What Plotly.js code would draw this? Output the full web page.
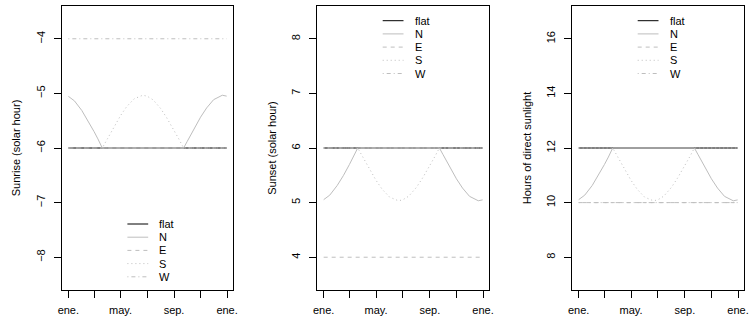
<!DOCTYPE html>
<html><head><meta charset="utf-8">
<script src="https://cdn.plot.ly/plotly-3.0.1.min.js"></script>
<style>html,body{margin:0;padding:0;background:#fff}#chart{width:749px;height:322px}</style>
</head><body><div id="chart"></div>
<script>
// ---- data ----
const dates = ["2023-01-01","2023-01-15","2023-02-01","2023-02-15","2023-03-01","2023-03-10","2023-03-20",
  "2023-04-01","2023-04-15","2023-05-01","2023-05-15","2023-06-01","2023-06-21","2023-07-01","2023-07-15",
  "2023-08-01","2023-08-15","2023-09-01","2023-09-12","2023-09-23","2023-10-01","2023-10-15","2023-11-01",
  "2023-11-15","2023-12-01","2023-12-21","2023-12-31"];
const ends = ["2023-01-01","2023-12-31"];
const seriesNames = ["flat","N","E","S","W"];

const sunriseFlat = [-6,-6];
const sunriseN = [-5.054,-5.137,-5.314,-5.493,-5.698,-5.834,-6,-6,-6,-6,-6,-6,-6,-6,-6,-6,-6,-6,-6,-6,
  -5.884,-5.674,-5.436,-5.266,-5.115,-5.034,-5.050];
const sunriseE = [-6,-6];
const sunriseS = [-6,-6,-6,-6,-6,-6,-6,-5.830,-5.622,-5.407,-5.244,-5.101,-5.034,-5.050,-5.119,-5.275,
  -5.444,-5.674,-5.834,-6,-6,-6,-6,-6,-6,-6,-6];
const sunriseW = [-4,-4];

const sunsetFlat = [6,6];
const sunsetN = [5.054,5.137,5.314,5.493,5.698,5.834,6,6,6,6,6,6,6,6,6,6,6,6,6,6,
  5.884,5.674,5.436,5.266,5.115,5.034,5.050];
const sunsetE = [4,4];
const sunsetS = [6,6,6,6,6,6,6,5.830,5.622,5.407,5.244,5.101,5.034,5.050,5.119,5.275,
  5.444,5.674,5.834,6,6,6,6,6,6,6,6];
const sunsetW = [6,6];

const hoursFlat = [12,12];
const hoursN = [10.108,10.275,10.627,10.987,11.395,11.668,12,12,12,12,12,12,12,12,12,12,12,12,12,12,
  11.769,11.348,10.872,10.532,10.229,10.067,10.099];
const hoursE = [10,10];
const hoursS = [12,12,12,12,12,12,12,11.661,11.245,10.813,10.489,10.201,10.067,10.099,10.238,10.550,
  10.888,11.348,11.668,12,12,12,12,12,12,12,12];
const hoursW = [10,10];

const tickDates = ["2023-01-01","2023-03-01","2023-05-01","2023-07-01","2023-09-01","2023-11-01","2024-01-01"];
const tickLabels = ["ene.","","may.","","sep.","","ene."];
const sunriseTicks = [-8,-7,-6,-5,-4];
const sunsetTicks = [4,5,6,7,8];
const hoursTicks = [8,10,12,14,16];
const yTitles = ["Sunrise (solar hour)","Sunset (solar hour)","Hours of direct sunlight"];

// ---- styles / layout ----
const W = 749, H = 322;
const styles = [
  {color:"#000000", dash:"solid"},
  {color:"#bebebe", dash:"solid"},
  {color:"#bebebe", dash:"4px,4px"},
  {color:"#bebebe", dash:"1px,3px"},
  {color:"#bebebe", dash:"1px,3px,4px,3px"}
];
const font = {family:"Liberation Sans, Arial, Helvetica, sans-serif", size:11, color:"#000"};
const boxLeft = [62, 317.3, 572.3], boxRight = [233, 489, 744];
const boxTop = 6, boxBottom = 290;
const yRanges = [[-8.6,-3.4],[3.4,8.6],[6.8,17.2]];
const xRange = ["2022-12-17 10:00","2024-01-14 14:00"];
const legendFirstRow = [224, 20.7, 20.7];
const rowGap = 13.2;

const panels = [
  {ys:[sunriseFlat,sunriseN,sunriseE,sunriseS,sunriseW], ticks:sunriseTicks},
  {ys:[sunsetFlat,sunsetN,sunsetE,sunsetS,sunsetW], ticks:sunsetTicks},
  {ys:[hoursFlat,hoursN,hoursE,hoursS,hoursW], ticks:hoursTicks}
];
const xsFor = [ends, dates, ends, dates, ends];

const traces = [];
const layout = {
  width:W, height:H, margin:{l:0,r:0,t:0,b:0}, showlegend:false,
  paper_bgcolor:"#fff", plot_bgcolor:"#fff", font:font, shapes:[], annotations:[]
};
const px = x => x / W, py = y => 1 - y / H;

panels.forEach((p, k) => {
  const sfx = k === 0 ? "" : String(k + 1);
  p.ys.forEach((yv, i) => {
    traces.push({
      type:"scatter", mode:"lines", name:seriesNames[i], x:xsFor[i], y:yv,
      xaxis:"x"+sfx, yaxis:"y"+sfx, hoverinfo:"skip",
      line:{color:styles[i].color, dash:styles[i].dash, width:1}
    });
  });
  layout["xaxis"+sfx] = {
    domain:[px(boxLeft[k]), px(boxRight[k])], anchor:"y"+sfx, type:"date", range:xRange,
    tickmode:"array", tickvals:tickDates, ticktext:tickLabels,
    showgrid:false, zeroline:false, showline:true, mirror:true, linecolor:"#000", linewidth:1,
    ticks:"outside", ticklen:7, tickwidth:1, tickcolor:"#000", ticklabelstandoff:3,
    tickfont:font, fixedrange:true
  };
  layout["yaxis"+sfx] = {
    domain:[py(boxBottom), py(boxTop)], anchor:"x"+sfx, range:yRanges[k],
    tickmode:"array", tickvals:p.ticks, tickangle:-90,
    showgrid:false, zeroline:false, showline:true, mirror:true, linecolor:"#000", linewidth:1,
    ticks:"outside", ticklen:7, tickwidth:1, tickcolor:"#000", ticklabelstandoff:5,
    tickfont:font, title:{text:yTitles[k], font:font, standoff:11}, automargin:false, fixedrange:true
  };
  // legend (R style, built from series names & styles)
  for (let i = 0; i < seriesNames.length; i++) {
    const yy = legendFirstRow[k] + i * rowGap;
    layout.shapes.push({type:"line", xref:"paper", yref:"paper",
      x0:px(boxLeft[k] + 65.4), x1:px(boxLeft[k] + 86.2), y0:py(yy), y1:py(yy),
      line:{color:styles[i].color, dash:styles[i].dash, width:1}});
    layout.annotations.push({xref:"paper", yref:"paper", x:px(boxLeft[k] + 95.3), y:py(yy),
      xanchor:"left", yanchor:"middle", text:seriesNames[i], showarrow:false, font:font});
  }
});

Plotly.newPlot("chart", traces, layout, {staticPlot:true, displayModeBar:false});
</script></body></html>
